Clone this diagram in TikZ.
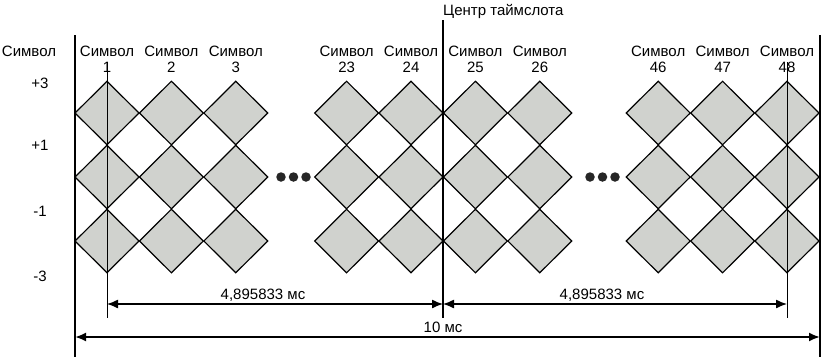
\documentclass[tikz,border=0pt]{standalone}
\usepackage{fontspec}
\setmainfont{Liberation Sans}
\usepackage{tikz}
\usetikzlibrary{positioning}
\usetikzlibrary{shapes.geometric,arrows.meta}
\definecolor{symfill}{RGB}{208,210,206}

\begin{document}
\begin{tikzpicture}[x=1pt, y=-1pt, >={Latex[length=11pt,width=9pt]},
    every node/.style = {font=\fontsize{15}{17}\selectfont, inner sep=0pt},
    sym/.style = {diamond, draw, fill=symfill, line width=1.2pt, minimum width=64.4pt, minimum height=64pt},
    dot/.style = {circle, fill=black!85, minimum size=9.5pt},
    edge line/.style = {line width=2pt}
    ]
    \useasboundingbox (0,0) rectangle (823,360);

    % symbol columns
    \foreach \n/\x in {1/107, 2/171.4, 3/235.8, 23/346.6, 24/411, 25/475.4, 26/539.8, 46/658.2, 47/722.6, 48/787} {
      \node[anchor=base] (name\n) at (\x,56) {Символ};
      \node[anchor=base] (num\n) at (\x,72) {\n};
      \foreach \r/\y in {1/113, 2/177, 3/241}
        \node[sym] (s\n-\r) at (\x,\y) {};
    }
    \foreach \k/\x in {a/281, b/293.5, c/306, d/590, e/602.5, f/615}
      \node[dot] (dot\k) at (\x,177) {};

    % levels
    \node[anchor=base] (axis) at (29,56) {Символ};
    \node (lv3) at (40,83) {+3};
    \node (lv1) at (40,145) {+1};
    \node (lvm1) at (40,211) {-1};
    \node (lvm3) at (40,276) {-3};

    \coordinate (Ltop) at (75,35);
    \coordinate (Lbot) at (75,357);
    \coordinate (Rtop) at (820,35);
    \coordinate (Rbot) at (820,357);
    \coordinate (Ctop) at (443,20);
    \coordinate (Cbot) at (443,318);
    \coordinate (t1) at (107,62);
    \coordinate (b1) at (107,318);
    \coordinate (t48) at (787,62);
    \coordinate (b48) at (787,318);
    \coordinate (d1) at (107,304);
    \coordinate (dC) at (443,304);
    \coordinate (d48) at (787,304);
    \coordinate (dL) at (75,337);
    \coordinate (dR) at (820,337);

    \node[anchor=base west] (centre) at (443,15) {Центр таймслота};

    \draw[edge line] (Ltop) -- (Lbot);
    \draw[edge line] (Rtop) -- (Rbot);
    \draw[line width=1.6pt] (Ctop) -- (Cbot);
    \draw[line width=1pt] (t1) -- (b1);
    \draw[line width=1pt] (t48) -- (b48);

    \draw[<->, line width=1.3pt] (d1) -- (dC);
    \draw[<->, line width=1.3pt] (dC) -- (d48);
    \draw[<->, edge line] (dL) -- (dR);

    \node (len1) at (263,295) {4,895833 мс};
    \node (len2) at (602,295) {4,895833 мс};
    \node (total) at (443,327) {10 мс};
\end{tikzpicture}
\end{document}
